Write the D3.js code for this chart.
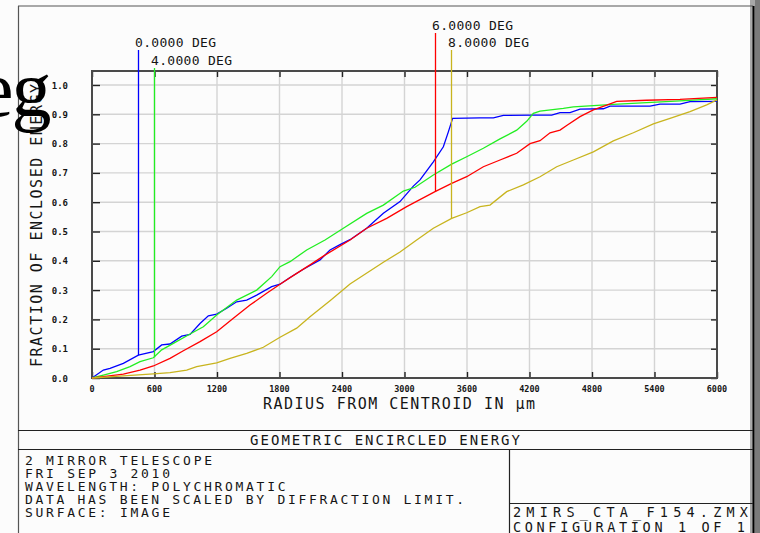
<!DOCTYPE html>
<html>
<head>
<meta charset="utf-8">
<script src="https://cdn.jsdelivr.net/npm/d3@7"></script>
<style>
  body { margin: 0; background: #fcfcfc; }
  svg { display: block; }
  .mono { font-family: "DejaVu Sans Mono", monospace; fill: #151515; }
  .tick-label { font-size: 8.5px; font-weight: bold; }
  .stray {
    font-family: "Tinos", "FreeSerif", "Nimbus Roman", "Nimbus Roman No9 L", "Liberation Serif",
                 "DejaVu Serif", "Noto Serif", "Times New Roman", "Times", serif;
    font-size: 80px; fill: #000; letter-spacing: -2px;
  }
</style>
</head>
<body>
<svg id="chart" width="760" height="533"></svg>
<script>
// field angles and their colours
var fieldNames = ["0.0000 DEG", "4.0000 DEG", "6.0000 DEG", "8.0000 DEG"];
var fieldColors = ["#0000ff", "#22ee22", "#ff0000", "#c8b41e"];

// radius (um) / fraction of enclosed energy
var r0 = [0,109,173,301,445,589,669,749,861,941,1037,1117,1197,1293,1389,1485,1581,1725,1805,1901,2029,2189,2285,2381,2477,2637,2797,2957,3085,3149,3277,3373,3421,3462,3725,3853,3949,4237,4413,4493,4589,4685,4909,4973,5357,5453,5645,5741,6000];
var e0 = [0,0.027,0.033,0.050,0.078,0.090,0.113,0.116,0.143,0.149,0.186,0.212,0.218,0.238,0.260,0.266,0.283,0.312,0.320,0.343,0.371,0.403,0.437,0.455,0.472,0.511,0.562,0.602,0.655,0.676,0.738,0.789,0.840,0.886,0.888,0.888,0.896,0.897,0.897,0.906,0.906,0.918,0.919,0.928,0.928,0.935,0.935,0.943,0.944];

var r4 = [0,109,237,365,461,589,669,781,941,1069,1197,1389,1581,1725,1805,1901,2061,2237,2413,2637,2797,2989,3101,3277,3453,3597,3757,3917,4077,4173,4237,4301,4525,4621,5005,5325,5645,6000];
var e4 = [0,0.010,0.022,0.039,0.056,0.069,0.096,0.118,0.150,0.175,0.215,0.266,0.300,0.346,0.380,0.397,0.437,0.471,0.511,0.562,0.590,0.638,0.651,0.693,0.730,0.755,0.784,0.816,0.846,0.876,0.903,0.911,0.920,0.925,0.934,0.940,0.946,0.953];

var r6 = [0,109,301,461,589,749,877,1037,1197,1357,1517,1677,1805,1965,2093,2221,2477,2637,2829,3021,3293,3453,3597,3757,3917,4077,4205,4301,4397,4493,4557,4685,4813,4941,5037,5325,5645,6000];
var e6 = [0,0.005,0.013,0.027,0.041,0.067,0.093,0.124,0.158,0.204,0.249,0.289,0.320,0.357,0.386,0.416,0.471,0.511,0.545,0.585,0.636,0.664,0.687,0.721,0.744,0.767,0.800,0.810,0.837,0.846,0.862,0.892,0.915,0.931,0.944,0.948,0.951,0.958];

var r8 = [0,301,589,749,909,1005,1197,1325,1485,1645,1805,1965,2093,2285,2477,2797,2957,3117,3277,3453,3597,3725,3821,3981,4141,4301,4461,4621,4813,5005,5197,5389,5549,5741,5901,6000];
var e8 = [0,0.007,0.014,0.018,0.027,0.039,0.052,0.067,0.084,0.105,0.139,0.170,0.209,0.264,0.321,0.395,0.430,0.471,0.511,0.545,0.564,0.585,0.590,0.636,0.659,0.687,0.721,0.744,0.772,0.809,0.837,0.867,0.886,0.909,0.932,0.949];

// radius of the marker line drawn for each field
var markerRadius = [441, 595, 3293, 3446];

var xTicks = [0,600,1200,1800,2400,3000,3600,4200,4800,5400,6000];
var yTicks = [0,0.1,0.2,0.3,0.4,0.5,0.6,0.7,0.8,0.9,1.0];

var headerLines = ["2 MIRROR TELESCOPE", "FRI SEP 3 2010", "WAVELENGTH: POLYCHROMATIC",
                   "DATA HAS BEEN SCALED BY DIFFRACTION LIMIT.", "SURFACE: IMAGE"];
var fileLines = ["2MIRS_CTA_F154.ZMX", "CONFIGURATION 1 OF 1"];

var radii = [r0, r4, r6, r8];
var energies = [e0, e4, e6, e8];

// layout
var plot = {left: 92, right: 717, top: 71, bottom: 378};
var markerTop = [50, 68, 33, 50];

var svg = d3.select("#chart");

var x = d3.scaleLinear().domain([0, 6000]).range([plot.left, plot.right]);
var y = d3.scaleLinear().domain([0, 1]).range([plot.bottom, 85]);

/*
  Outer sheet frame and the title block boxes.
*/
svg.append("rect").attr("x", 750).attr("y", 0).attr("width", 10).attr("height", 533).attr("fill", "#a8a8a8");
svg.append("rect").attr("x", 755).attr("y", 0).attr("width", 5).attr("height", 533).attr("fill", "#7a7a7a");

var frame = svg.append("g").attr("stroke", "#222").attr("stroke-width", 1.2).attr("fill", "none");
frame.append("line").attr("x1", 18).attr("y1", 6).attr("x2", 753).attr("y2", 6).attr("stroke", "#555");
frame.append("line").attr("x1", 18.5).attr("y1", 6).attr("x2", 18.5).attr("y2", 533).attr("stroke", "#555");
frame.append("line").attr("x1", 753.5).attr("y1", 6).attr("x2", 753.5).attr("y2", 533).attr("stroke", "#000").attr("stroke-width", 2);
frame.append("line").attr("x1", 18).attr("y1", 430.5).attr("x2", 753).attr("y2", 430.5);
frame.append("line").attr("x1", 18).attr("y1", 449.5).attr("x2", 753).attr("y2", 449.5);
frame.append("line").attr("x1", 509.5).attr("y1", 449).attr("x2", 509.5).attr("y2", 533);
frame.append("line").attr("x1", 509).attr("y1", 503.5).attr("x2", 753).attr("y2", 503.5);

/*
  Grid lines.
*/
var grid = svg.append("g").attr("stroke", "#d4d4d4").attr("stroke-width", 1.4);
grid.selectAll(".gx").data(xTicks.slice(1, -1)).enter().append("line")
    .attr("x1", function(d) { return x(d); }).attr("x2", function(d) { return x(d); })
    .attr("y1", plot.top).attr("y2", plot.bottom);
grid.selectAll(".gy").data(yTicks.slice(1)).enter().append("line")
    .attr("x1", plot.left).attr("x2", plot.right)
    .attr("y1", function(d) { return y(d); }).attr("y2", function(d) { return y(d); });

/*
  Axes: ticks point inward on all four sides.
*/
function inkTicks(g) {
  g.select(".domain").remove();
  g.selectAll("line").attr("stroke", "#222").attr("stroke-width", 1.4);
}
svg.append("g")
   .attr("transform", "translate(0," + plot.bottom + ")")
   .call(d3.axisTop(x).tickValues(xTicks).tickSize(6).tickFormat(""))
   .call(inkTicks);
svg.append("g")
   .attr("transform", "translate(0," + plot.top + ")")
   .call(d3.axisBottom(x).tickValues(xTicks).tickSize(6).tickFormat(""))
   .call(inkTicks);
svg.append("g")
   .attr("transform", "translate(" + plot.left + ",0)")
   .call(d3.axisRight(y).tickValues(yTicks).tickSize(8).tickFormat(""))
   .call(inkTicks);
svg.append("g")
   .attr("transform", "translate(" + plot.right + ",0)")
   .call(d3.axisLeft(y).tickValues(yTicks).tickSize(6).tickFormat(""))
   .call(inkTicks);

svg.append("rect")
   .attr("x", plot.left).attr("y", plot.top)
   .attr("width", plot.right - plot.left).attr("height", plot.bottom - plot.top)
   .attr("fill", "none").attr("stroke", "#4a4a4a").attr("stroke-width", 2);

svg.selectAll(".xl").data(xTicks).enter().append("text")
   .attr("class", "mono tick-label")
   .attr("x", function(d) { return x(d); }).attr("y", 392)
   .attr("text-anchor", "middle")
   .text(function(d) { return d; });
svg.selectAll(".yl").data(yTicks).enter().append("text")
   .attr("class", "mono tick-label")
   .attr("x", 68).attr("y", function(d) { return y(d) + 3.5; })
   .attr("text-anchor", "end")
   .style("font-size", "9px")
   .text(function(d) { return d.toFixed(1); });

svg.append("text")
   .attr("class", "mono")
   .attr("x", 263).attr("y", 409)
   .attr("textLength", 272).attr("lengthAdjust", "spacing")
   .style("font-size", "15px")
   .text("RADIUS FROM CENTROID IN \u00b5m");
svg.append("text")
   .attr("class", "mono")
   .attr("transform", "translate(42,367) rotate(-90)")
   .attr("textLength", 283).attr("lengthAdjust", "spacing")
   .style("font-size", "15px")
   .text("FRACTION OF ENCLOSED ENERGY");

/*
  Encircled energy curves and the field markers.
*/
var line = d3.line()
  .x(function(d) { return x(d[0]); })
  .y(function(d) { return y(d[1]); });

radii.forEach(function(rs, i) {
  var pts = rs.map(function(r, j) { return [r, energies[i][j]]; });
  svg.append("path")
     .datum(pts)
     .attr("d", line)
     .attr("fill", "none")
     .attr("stroke", fieldColors[i])
     .attr("stroke-width", 1.3);

  var curveAt = d3.scaleLinear().domain(rs).range(energies[i]);
  var mx = Math.round(x(markerRadius[i])) + 0.5;
  svg.append("line")
     .attr("x1", mx).attr("x2", mx)
     .attr("y1", markerTop[i]).attr("y2", y(curveAt(markerRadius[i])))
     .attr("stroke", fieldColors[i]).attr("stroke-width", 1.3);
  svg.append("text")
     .attr("class", "mono")
     .attr("x", mx - 3.5).attr("y", markerTop[i] - 3)
     .attr("textLength", 81).attr("lengthAdjust", "spacing")
     .style("font-size", "13px")
     .text(fieldNames[i]);
});

/*
  Title block text.
*/
svg.append("text")
   .attr("class", "mono")
   .attr("x", 250).attr("y", 445)
   .attr("textLength", 270).attr("lengthAdjust", "spacing")
   .style("font-size", "14px")
   .text("GEOMETRIC ENCIRCLED ENERGY");

svg.selectAll(".hl").data(headerLines).enter().append("text")
   .attr("class", "mono")
   .attr("x", 25).attr("y", function(d, i) { return 465 + i * 12.9; })
   .attr("textLength", function(d) { return d.length * 10.5 - 2; })
   .attr("lengthAdjust", "spacing")
   .style("font-size", "13px")
   .text(function(d) { return d; });

svg.selectAll(".fl").data(fileLines).enter().append("text")
   .attr("class", "mono")
   .attr("x", 513).attr("y", function(d, i) { return 517 + i * 14.5; })
   .attr("textLength", function(d, i) { return i === 0 ? 235 : 232; })
   .attr("lengthAdjust", "spacing")
   .style("font-size", "13.5px")
   .text(function(d) { return d; });

// stray glyphs pasted over the sheet
svg.append("text")
   .attr("class", "stray")
   .attr("x", -22).attr("y", 116)
   .text("eg");
</script>
</body>
</html>
